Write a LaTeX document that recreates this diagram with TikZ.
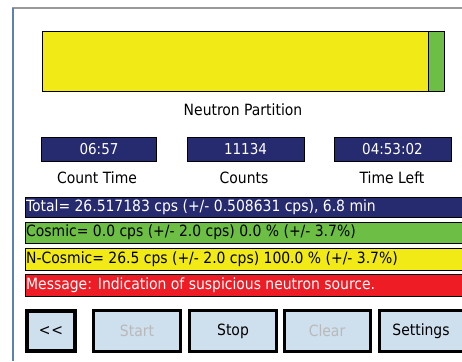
\documentclass[tikz,border=0pt]{standalone}
\usepackage{fontspec}
\setmainfont{DejaVu Sans Condensed}[Ligatures=NoCommon]
\definecolor{navy}{HTML}{262A6E}
\definecolor{ygreen}{HTML}{6CBE45}
\definecolor{yyel}{HTML}{F2EA17}
\definecolor{rred}{HTML}{EE1D25}
\definecolor{btn}{HTML}{CEDFEE}
\definecolor{frameblue}{HTML}{5B82B5}
\tikzset{
  navybox/.style={draw=black, line width=0.6pt, fill=navy, text=white, font=\fontsize{15}{15}\selectfont},
  barbox/.style={draw=black, line width=0.8pt},
  bartext/.style={anchor=west, font=\fontsize{15.5}{15.5}\selectfont, inner sep=0pt},
  btnbox/.style={draw=black, line width=3pt, fill=btn},
  btntext/.style={font=\fontsize{15.5}{15.5}\selectfont},
  lbl/.style={font=\fontsize{15.5}{15.5}\selectfont}
}
\begin{document}
\begin{tikzpicture}[x=1pt,y=-1pt]
\useasboundingbox (0,0) rectangle (462,361);
\fill[white] (0,0) rectangle (462,361);
% frame
\draw[gray!80, line width=1.5pt] (12,8) -- (462,8);
\draw[frameblue, line width=2pt] (13,8) -- (13,361);
% partition bar
\draw[barbox, fill=yyel] (42,31) rectangle (428,91);
\draw[barbox, fill=ygreen] (428,31) rectangle (444,91);
\node[lbl] (np) at (243,110) {Neutron Partition};
% value boxes
\node[navybox, minimum width=115pt, minimum height=24pt, inner sep=0pt] (b1) at (99,149) {06:57};
\node[navybox, minimum width=117pt, minimum height=24pt, inner sep=0pt] (b2) at (245.5,149) {11134};
\node[navybox, minimum width=117pt, minimum height=24pt, inner sep=0pt] (b3) at (392.5,149) {04:53:02};
\node[lbl] (l1) at (97,178) {Count Time};
\node[lbl] (l2) at (244,178) {Counts};
\node[lbl] (l3) at (392,178) {Time Left};
% status bars
\draw[barbox, fill=navy] (25,197) rectangle (470,217);
\node[bartext, text=white] (t1) at (26,207) {Total= 26.517183 cps (+/- 0.508631 cps), 6.8 min};
\draw[barbox, fill=ygreen] (25,222) rectangle (470,243);
\node[bartext] (t2) at (26,232.5) {Cosmic= 0.0 cps (+/- 2.0 cps) 0.0 \% (+/- 3.7\%)};
\draw[barbox, fill=yyel] (25,248) rectangle (470,270);
\node[bartext] (t3) at (26,259) {N-Cosmic= 26.5 cps (+/- 2.0 cps) 100.0 \% (+/- 3.7\%)};
\draw[barbox, fill=rred] (25,274) rectangle (470,296);
\node[bartext, text=white] (t4) at (26,285) {Message: Indication of suspicious neutron source.};
% buttons
\draw[btnbox, line width=4pt] (27,311) rectangle (75,351);
\node[btntext] (bb) at (51,331) {\mbox{<}\kern1pt\mbox{<}};
\draw[btnbox] (93.5,310.5) rectangle (180.5,351.5);
\node[btntext, text=gray!55] (bs) at (137,331) {Start};
\draw[btnbox] (189.5,310.5) rectangle (276.5,351.5);
\node[btntext] (bp) at (233,331) {Stop};
\draw[btnbox] (284.5,310.5) rectangle (370.5,351.5);
\node[btntext, text=gray!55] (bc) at (327,331) {Clear};
\draw[btnbox] (379.5,310.5) rectangle (470,351.5);
\node[btntext] (bt) at (421,331) {Settings};
\end{tikzpicture}
\end{document}
